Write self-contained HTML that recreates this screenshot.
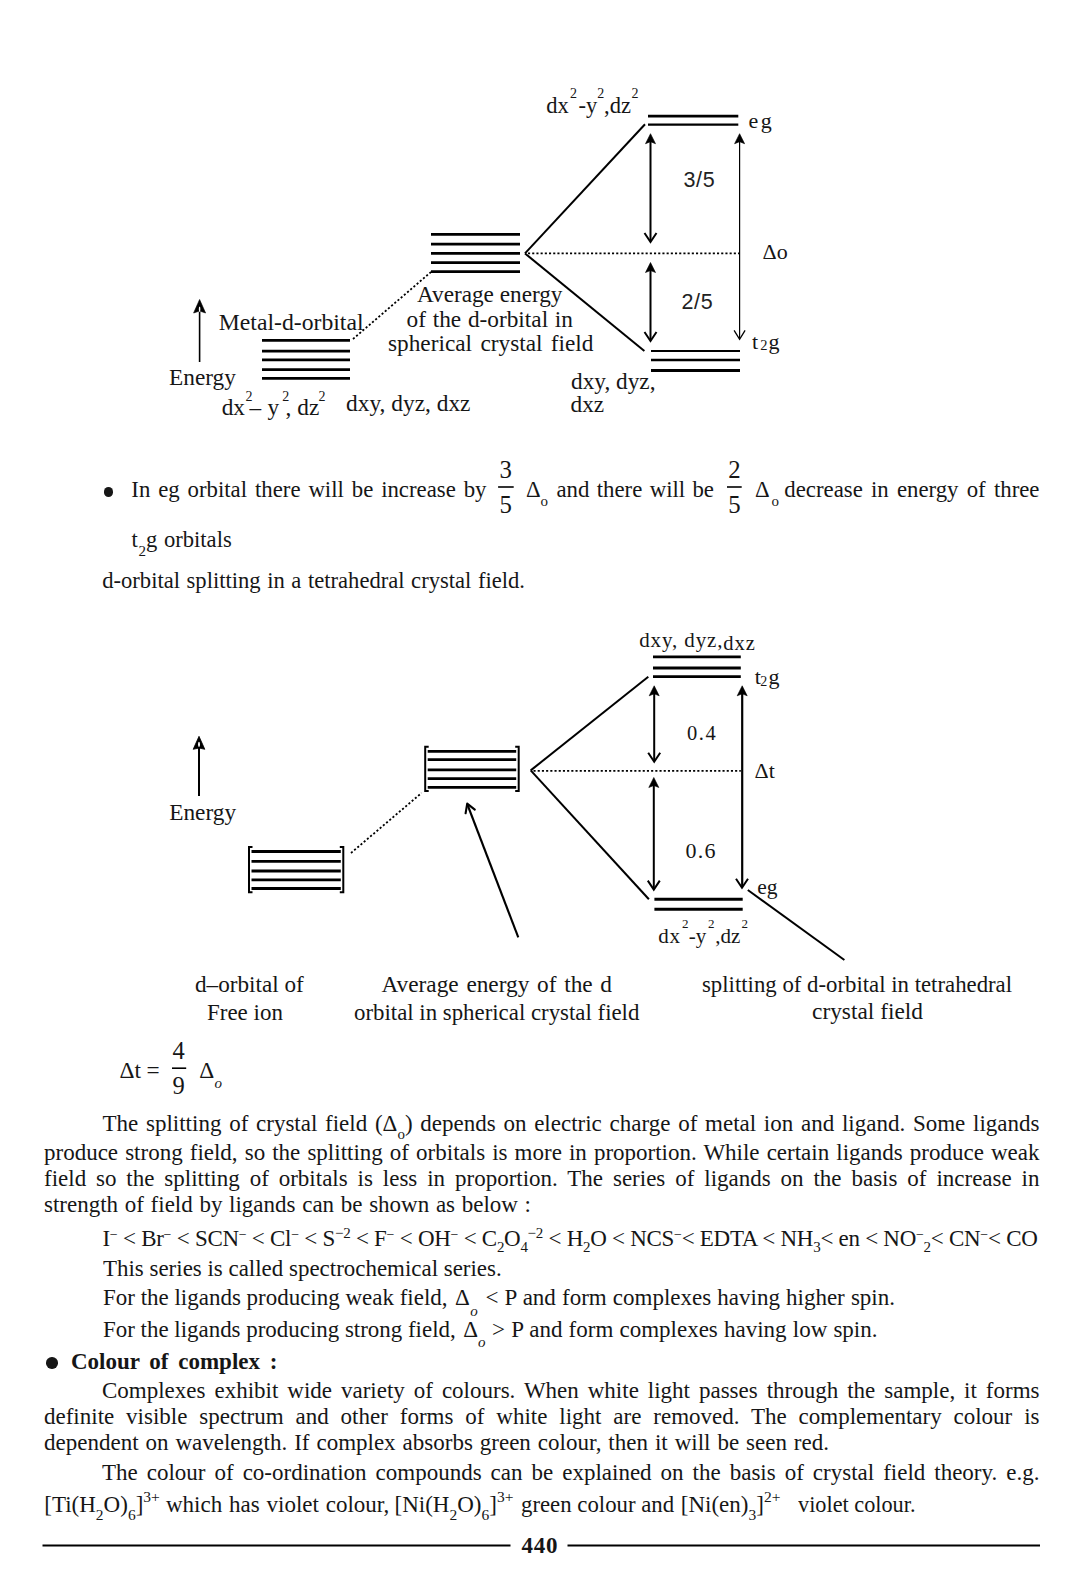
<!DOCTYPE html>
<html><head><meta charset="utf-8">
<style>
html,body{margin:0;padding:0;background:#fff;}
body{width:1080px;height:1575px;position:relative;overflow:hidden;}
.s,.ss{position:absolute;white-space:nowrap;line-height:0;color:#161616;font-family:"Liberation Serif",serif;}
.ss{font-family:"Liberation Sans",sans-serif;}
.r{position:relative;line-height:0;}
.dot{position:absolute;width:10px;height:10px;border-radius:50%;background:#161616;}
svg{position:absolute;left:0;top:0;}
</style></head><body>
<svg width="1080" height="1575" viewBox="0 0 1080 1575" stroke="#000" stroke-linecap="butt">
<line x1="431" y1="234.4" x2="520" y2="234.4" stroke-width="2.7" />
<line x1="431" y1="244.1" x2="520" y2="244.1" stroke-width="2.7" />
<line x1="431" y1="253.4" x2="520" y2="253.4" stroke-width="2.7" />
<line x1="431" y1="262.6" x2="520" y2="262.6" stroke-width="2.7" />
<line x1="431" y1="271.6" x2="520" y2="271.6" stroke-width="2.7" />
<line x1="262" y1="340.4" x2="350" y2="340.4" stroke-width="2.7" />
<line x1="262" y1="351.1" x2="350" y2="351.1" stroke-width="2.7" />
<line x1="262" y1="359.8" x2="350" y2="359.8" stroke-width="2.7" />
<line x1="262" y1="369.6" x2="350" y2="369.6" stroke-width="2.7" />
<line x1="262" y1="378.4" x2="350" y2="378.4" stroke-width="2.7" />
<line x1="353" y1="339" x2="431" y2="272" stroke-width="1.8" stroke-dasharray="2.1 2.1"/>
<line x1="525" y1="253.4" x2="645" y2="124.2" stroke-width="2" />
<line x1="525" y1="253.4" x2="644.4" y2="351.1" stroke-width="2" />
<line x1="528" y1="253.4" x2="739" y2="253.4" stroke-width="1.8" stroke-dasharray="2.1 2.1"/>
<line x1="648" y1="116.2" x2="738.3" y2="116.2" stroke-width="2.8" />
<line x1="648" y1="124.7" x2="738.3" y2="124.7" stroke-width="2.2" />
<line x1="651" y1="351" x2="740" y2="351" stroke-width="2.2" />
<line x1="651" y1="360" x2="740" y2="360" stroke-width="2.4" />
<line x1="651" y1="370.4" x2="740" y2="370.4" stroke-width="3" />
<line x1="650.5" y1="140" x2="650.5" y2="241" stroke-width="2" />
<path d="M650.5,133.7 L645.5,143.7 L650.5,141.7 L655.5,143.7 Z" stroke-width="0.6" fill="#000" />
<path d="M644.5,233 L650.5,242 L656.5,233" stroke-width="2" fill="none" />
<line x1="650.5" y1="270" x2="650.5" y2="340" stroke-width="2" />
<path d="M650.5,262.5 L645.5,272.5 L650.5,270.5 L655.5,272.5 Z" stroke-width="0.6" fill="#000" />
<path d="M644.5,332 L650.5,341 L656.5,332" stroke-width="2" fill="none" />
<line x1="739.6" y1="140" x2="739.6" y2="338" stroke-width="1.2" />
<path d="M739.6,133.7 L734.6,143.7 L739.6,141.7 L744.6,143.7 Z" stroke-width="0.6" fill="#000" />
<path d="M734.1,330.3 L739.6,339.3 L745.1,330.3" stroke-width="1.3" fill="none" />
<line x1="199.6" y1="312" x2="199.6" y2="362" stroke-width="1.6" />
<path d="M199.6,299.5 L193.6,313.0 L199.6,311.0 L205.6,313.0 Z" stroke-width="0.6" fill="#000" />
<ellipse cx="199.6" cy="309" rx="0.8" ry="2.5" fill="#fff" stroke="none"/>
<line x1="251.5" y1="851.5" x2="340.8" y2="851.5" stroke-width="2.8" />
<line x1="251.5" y1="861.3" x2="340.8" y2="861.3" stroke-width="2.8" />
<line x1="251.5" y1="871" x2="340.8" y2="871" stroke-width="2.8" />
<line x1="251.5" y1="879.8" x2="340.8" y2="879.8" stroke-width="2.8" />
<line x1="251.5" y1="888.5" x2="340.8" y2="888.5" stroke-width="2.8" />
<path d="M252.5,847 L249,847 L249,892.2 L252.5,892.2" stroke-width="2" fill="none" />
<path d="M339.8,847 L343.3,847 L343.3,892.2 L339.8,892.2" stroke-width="2" fill="none" />
<line x1="427.7" y1="751.3" x2="516.2" y2="751.3" stroke-width="2.8" />
<line x1="427.7" y1="759.6" x2="516.2" y2="759.6" stroke-width="2.8" />
<line x1="427.7" y1="769.8" x2="516.2" y2="769.8" stroke-width="2.8" />
<line x1="427.7" y1="778.7" x2="516.2" y2="778.7" stroke-width="2.8" />
<line x1="427.7" y1="787.4" x2="516.2" y2="787.4" stroke-width="2.8" />
<path d="M428.7,746.7 L425.2,746.7 L425.2,791.1 L428.7,791.1" stroke-width="2" fill="none" />
<path d="M515.2,746.7 L518.7,746.7 L518.7,791.1 L515.2,791.1" stroke-width="2" fill="none" />
<line x1="351" y1="853" x2="421.5" y2="793" stroke-width="1.8" stroke-dasharray="2.1 2.1"/>
<line x1="518.3" y1="937.4" x2="467.6" y2="805" stroke-width="2.1" />
<path d="M465.6,813.3 L467.2,803.6 L474.8,809.6" stroke-width="2.1" fill="none" stroke-linecap="round" stroke-linejoin="round"/>
<line x1="530.7" y1="770.4" x2="648.3" y2="676.7" stroke-width="2" />
<line x1="530.7" y1="770.4" x2="648.9" y2="899.3" stroke-width="2" />
<line x1="533.5" y1="770.8" x2="740.8" y2="770.8" stroke-width="1.8" stroke-dasharray="2.1 2.1"/>
<line x1="653" y1="656.9" x2="740.8" y2="656.9" stroke-width="2.8" />
<line x1="653" y1="668" x2="740.8" y2="668" stroke-width="2.8" />
<line x1="653" y1="676.6" x2="740.8" y2="676.6" stroke-width="2.8" />
<line x1="654.4" y1="899.3" x2="742.7" y2="899.3" stroke-width="3" />
<line x1="654.4" y1="909.3" x2="742.7" y2="909.3" stroke-width="3" />
<line x1="654.2" y1="692" x2="654.2" y2="760" stroke-width="2" />
<path d="M654.2,685.8 L649.2,695.8 L654.2,693.8 L659.2,695.8 Z" stroke-width="0.6" fill="#000" />
<path d="M648.2,752.7 L654.2,761.7 L660.2,752.7" stroke-width="2" fill="none" />
<line x1="653.8" y1="784" x2="653.8" y2="888" stroke-width="2" />
<path d="M653.8,777.5 L648.8,787.5 L653.8,785.5 L658.8,787.5 Z" stroke-width="0.6" fill="#000" />
<path d="M647.8,880.6 L653.8,889.6 L659.8,880.6" stroke-width="2" fill="none" />
<line x1="742.2" y1="692" x2="742.2" y2="886" stroke-width="2.2" />
<path d="M742.2,685.8 L737.2,695.8 L742.2,693.8 L747.2,695.8 Z" stroke-width="0.6" fill="#000" />
<path d="M736,878.8 L742,887.8 L748,878.8" stroke-width="2" fill="none" />
<line x1="747.8" y1="890" x2="844.4" y2="960" stroke-width="2" />
<line x1="199" y1="747" x2="199" y2="796" stroke-width="2" />
<path d="M199,736.3 L193.2,749.3 L199,748 L204.8,749.3 Z" stroke-width="0.8" fill="#000" />
<ellipse cx="199" cy="744.3" rx="1" ry="2.6" fill="#fff" stroke="none"/>
<line x1="498.1" y1="487" x2="513.7" y2="487" stroke-width="1.6" />
<line x1="727" y1="487" x2="741.7" y2="487" stroke-width="1.6" />
<line x1="172" y1="1068.2" x2="186.2" y2="1068.2" stroke-width="1.6" />
<line x1="42.5" y1="1545.5" x2="510.5" y2="1545.5" stroke-width="2.2" />
<line x1="567.5" y1="1545.5" x2="1040" y2="1545.5" stroke-width="2.2" />
</svg>
<div class="s" style="left:546.3px;top:106.21px;font-size:22.5px;">dx</div>
<div class="s" style="left:570.0px;top:93.58px;font-size:14px;">2</div>
<div class="s" style="left:578.5px;top:106.21px;font-size:22.5px;">-y</div>
<div class="s" style="left:597.3px;top:93.58px;font-size:14px;">2</div>
<div class="s" style="left:604.0px;top:106.21px;font-size:22.5px;">,dz</div>
<div class="s" style="left:631.5px;top:93.58px;font-size:14px;">2</div>
<div class="s" style="left:748.5px;top:120.88px;font-size:22px;letter-spacing:2.5px">eg</div>
<div class="ss" style="left:683.5px;top:179.85px;font-size:21.5px;letter-spacing:0.6px;color:#222">3/5</div>
<div class="s" style="left:762.5px;top:251.98px;font-size:22px;">&Delta;o</div>
<div class="ss" style="left:681.5px;top:301.85px;font-size:21.5px;letter-spacing:0.6px;color:#222">2/5</div>
<div class="s" style="left:752.0px;top:342.38px;font-size:22px;">t</div>
<div class="s" style="left:760.3px;top:344.91px;font-size:14.5px;">2</div>
<div class="s" style="left:768.5px;top:342.38px;font-size:22px;">g</div>
<div class="s" style="left:218.8px;top:322.40px;font-size:23.7px;">Metal-d-orbital</div>
<div class="s" style="left:416.5px;top:294.14px;font-size:23.3px;transform:scaleX(0.9967);transform-origin:0 0;">Average energy</div>
<div class="s" style="left:406.5px;top:318.94px;font-size:23.3px;width:166.5px;text-align:justify;text-align-last:justify;">of the d-orbital in</div>
<div class="s" style="left:388.0px;top:343.44px;font-size:23.3px;width:205.5px;text-align:justify;text-align-last:justify;">spherical crystal field</div>
<div class="s" style="left:169.0px;top:376.94px;font-size:23.3px;">Energy</div>
<div class="s" style="left:221.7px;top:407.34px;font-size:23.3px;">dx</div>
<div class="s" style="left:245.5px;top:397.18px;font-size:14px;">2</div>
<div class="s" style="left:249.5px;top:407.34px;font-size:23.3px;">&ndash;</div>
<div class="s" style="left:267.5px;top:407.34px;font-size:23.3px;">y</div>
<div class="s" style="left:282.3px;top:397.18px;font-size:14px;">2</div>
<div class="s" style="left:285.5px;top:407.34px;font-size:23.3px;">,</div>
<div class="s" style="left:297.3px;top:407.34px;font-size:23.3px;">dz</div>
<div class="s" style="left:318.4px;top:397.18px;font-size:14px;">2</div>
<div class="s" style="left:345.5px;top:402.64px;font-size:23.3px;transform:scaleX(1.0039);transform-origin:0 0;">dxy, dyz, dxz</div>
<div class="s" style="left:570.5px;top:380.74px;font-size:23.3px;transform:scaleX(0.9994);transform-origin:0 0;">dxy, dyz,</div>
<div class="s" style="left:570.5px;top:403.94px;font-size:23.3px;">dxz</div>
<div class="dot" style="left:103.8px;top:487.2px;width:9.5px;height:9.5px"></div>
<div class="s" style="left:131.3px;top:489.81px;font-size:22.8px;width:355.2px;text-align:justify;text-align-last:justify;">In eg orbital there will be increase by</div>
<div class="s" style="left:499.5px;top:470.13px;font-size:24.8px;">3</div>
<div class="s" style="left:499.5px;top:504.73px;font-size:24.8px;">5</div>
<div class="s" style="left:526.0px;top:489.61px;font-size:22.8px;">&Delta;</div>
<div class="s" style="left:540.5px;top:501.44px;font-size:15px;">o</div>
<div class="s" style="left:556.5px;top:489.81px;font-size:22.8px;width:157.5px;text-align:justify;text-align-last:justify;">and there will be</div>
<div class="s" style="left:728.2px;top:470.13px;font-size:24.8px;">2</div>
<div class="s" style="left:728.2px;top:504.73px;font-size:24.8px;">5</div>
<div class="s" style="left:755.0px;top:489.61px;font-size:22.8px;">&Delta;</div>
<div class="s" style="left:771.5px;top:501.44px;font-size:15px;">o</div>
<div class="s" style="left:784.3px;top:489.81px;font-size:22.8px;width:255.2px;text-align:justify;text-align-last:justify;">decrease in energy of three</div>
<div class="s" style="left:131.5px;top:540.37px;font-size:22.6px;">t</div>
<div class="s" style="left:138.5px;top:551.24px;font-size:15px;">2</div>
<div class="s" style="left:146.0px;top:540.37px;font-size:22.6px;word-spacing:1px">g orbitals</div>
<div class="s" style="left:102.2px;top:581.37px;font-size:22.6px;width:422.8px;text-align:justify;text-align-last:justify;">d-orbital splitting in a tetrahedral crystal field.</div>
<div class="s" style="left:639.2px;top:640.41px;font-size:21px;letter-spacing:0.9px">dxy, dyz,</div>
<div class="s" style="left:723.2px;top:643.28px;font-size:20.5px;letter-spacing:1px">dxz</div>
<div class="s" style="left:754.7px;top:676.88px;font-size:22px;">t</div>
<div class="s" style="left:760.3px;top:681.58px;font-size:14px;">2</div>
<div class="s" style="left:768.5px;top:676.88px;font-size:22px;">g</div>
<div class="s" style="left:687.0px;top:733.48px;font-size:20.5px;letter-spacing:1.6px">0.4</div>
<div class="s" style="left:754.5px;top:770.88px;font-size:22px;">&Delta;t</div>
<div class="s" style="left:685.5px;top:850.98px;font-size:22px;letter-spacing:1.3px">0.6</div>
<div class="s" style="left:757.3px;top:886.85px;font-size:21.5px;">eg</div>
<div class="s" style="left:658.2px;top:936.31px;font-size:21px;letter-spacing:0.8px">dx</div>
<div class="s" style="left:682.0px;top:923.71px;font-size:13px;">2</div>
<div class="s" style="left:688.8px;top:936.31px;font-size:21px;">-y</div>
<div class="s" style="left:708.0px;top:923.71px;font-size:13px;">2</div>
<div class="s" style="left:715.2px;top:936.31px;font-size:21px;">,dz</div>
<div class="s" style="left:741.6px;top:923.71px;font-size:13px;">2</div>
<div class="s" style="left:169.2px;top:811.94px;font-size:23.3px;">Energy</div>
<div class="s" style="left:195.1px;top:984.14px;font-size:23.3px;transform:scaleX(0.9940);transform-origin:0 0;">d&ndash;orbital of</div>
<div class="s" style="left:207.3px;top:1011.74px;font-size:23.3px;transform:scaleX(0.9857);transform-origin:0 0;">Free ion</div>
<div class="s" style="left:381.5px;top:984.14px;font-size:23.3px;width:230.5px;text-align:justify;text-align-last:justify;">Average energy of the d</div>
<div class="s" style="left:354.0px;top:1011.74px;font-size:23.3px;transform:scaleX(0.9803);transform-origin:0 0;">orbital in spherical crystal field</div>
<div class="s" style="left:702.2px;top:983.74px;font-size:23.3px;transform:scaleX(0.9781);transform-origin:0 0;">splitting of d-orbital in tetrahedral</div>
<div class="s" style="left:812.4px;top:1011.44px;font-size:23.3px;transform:scaleX(1.0034);transform-origin:0 0;">crystal field</div>
<div class="s" style="left:119.6px;top:1069.74px;font-size:23.3px;">&Delta;t</div>
<div class="s" style="left:146.5px;top:1069.74px;font-size:23.3px;">=</div>
<div class="s" style="left:172.5px;top:1050.53px;font-size:24.5px;">4</div>
<div class="s" style="left:172.5px;top:1085.53px;font-size:24.5px;">9</div>
<div class="s" style="left:199.3px;top:1069.74px;font-size:23.3px;">&Delta;</div>
<div class="s" style="left:214.5px;top:1082.74px;font-size:15px;"><i>o</i></div>
<div class="s" style="left:102.5px;top:1123.54px;font-size:23px;width:937.0px;text-align:justify;text-align-last:justify;">The splitting of crystal field (&Delta;<span class="r" style="top:8.5px;font-size:15px">o</span>) depends on electric charge of metal ion and ligand. Some ligands</div>
<div class="s" style="left:44.0px;top:1152.54px;font-size:23px;width:995.5px;text-align:justify;text-align-last:justify;">produce strong field, so the splitting of orbitals is more in proportion. While certain ligands produce weak</div>
<div class="s" style="left:44.0px;top:1178.54px;font-size:23px;width:995.5px;text-align:justify;text-align-last:justify;">field so the splitting of orbitals is less in proportion. The series of ligands on the basis of increase in</div>
<div class="s" style="left:44.0px;top:1204.54px;font-size:23px;width:487.0px;text-align:justify;text-align-last:justify;">strength of field by ligands can be shown as below :</div>
<div class="s" style="left:102.5px;top:1238.74px;font-size:23px;width:935.0px;text-align:justify;text-align-last:justify;letter-spacing:-0.3px">I<span class="r" style="top:-7px;font-size:14px">&minus;</span> &lt; Br<span class="r" style="top:-7px;font-size:14px">&minus;</span> &lt; SCN<span class="r" style="top:-7px;font-size:14px">&minus;</span> &lt; Cl<span class="r" style="top:-7px;font-size:14px">&minus;</span> &lt; S<span class="r" style="top:-8px;font-size:15px">&minus;2</span> &lt; F<span class="r" style="top:-7px;font-size:14px">&minus;</span> &lt; OH<span class="r" style="top:-7px;font-size:14px">&minus;</span> &lt; C<span class="r" style="top:6px;font-size:15px">2</span>O<span class="r" style="top:6px;font-size:15px">4</span><span class="r" style="top:-8px;font-size:15px">&minus;2</span> &lt; H<span class="r" style="top:6px;font-size:15px">2</span>O &lt; NCS<span class="r" style="top:-7px;font-size:14px">&minus;</span>&lt; EDTA &lt; NH<span class="r" style="top:6px;font-size:15px">3</span>&lt; en &lt; NO<span class="r" style="top:-7px;font-size:14px">&minus;</span><span class="r" style="top:6px;font-size:15px">2</span>&lt; CN<span class="r" style="top:-7px;font-size:14px">&minus;</span>&lt; CO</div>
<div class="s" style="left:103.3px;top:1269.04px;font-size:23px;transform:scaleX(0.9973);transform-origin:0 0;">This series is called spectrochemical series.</div>
<div class="s" style="left:103.3px;top:1298.04px;font-size:23px;transform:scaleX(0.9988);transform-origin:0 0;">For the ligands producing weak field,</div>
<div class="s" style="left:455.0px;top:1298.04px;font-size:23px;">&Delta;</div>
<div class="s" style="left:470.3px;top:1311.14px;font-size:15px;"><i>o</i></div>
<div class="s" style="left:485.5px;top:1298.04px;font-size:23px;width:409.5px;text-align:justify;text-align-last:justify;">&lt; P and form complexes having higher spin.</div>
<div class="s" style="left:103.3px;top:1329.94px;font-size:23px;transform:scaleX(0.9966);transform-origin:0 0;">For the ligands producing strong field,</div>
<div class="s" style="left:463.2px;top:1329.94px;font-size:23px;">&Delta;</div>
<div class="s" style="left:478.0px;top:1342.24px;font-size:15px;"><i>o</i></div>
<div class="s" style="left:492.0px;top:1329.94px;font-size:23px;width:385.5px;text-align:justify;text-align-last:justify;">&gt; P and form complexes having low spin.</div>
<div class="dot" style="left:46.2px;top:1357.4px;width:11.5px;height:11.5px"></div>
<div class="s" style="left:71.0px;top:1362.04px;font-size:23px;word-spacing:4px"><b>Colour of complex :</b></div>
<div class="s" style="left:102.0px;top:1390.54px;font-size:23px;width:937.5px;text-align:justify;text-align-last:justify;">Complexes exhibit wide variety of colours. When white light passes through the sample, it forms</div>
<div class="s" style="left:44.0px;top:1417.04px;font-size:23px;width:995.5px;text-align:justify;text-align-last:justify;">definite visible spectrum and other forms of white light are removed. The complementary colour is</div>
<div class="s" style="left:44.0px;top:1443.04px;font-size:23px;width:785.0px;text-align:justify;text-align-last:justify;">dependent on wavelength. If complex absorbs green colour, then it will be seen red.</div>
<div class="s" style="left:102.0px;top:1473.04px;font-size:23px;width:937.5px;text-align:justify;text-align-last:justify;">The colour of co-ordination compounds can be explained on the basis of crystal field theory. e.g.</div>
<div class="s" style="left:44.3px;top:1505.04px;font-size:23px;">[Ti(H<span class="r" style="top:7.5px;font-size:15.5px">2</span>O)<span class="r" style="top:7.5px;font-size:15.5px">6</span>]<span class="r" style="top:-10px;font-size:15.5px">3+</span></div>
<div class="s" style="left:166.0px;top:1505.04px;font-size:23px;width:223.3px;text-align:justify;text-align-last:justify;">which has violet colour,</div>
<div class="s" style="left:394.5px;top:1505.04px;font-size:23px;">[Ni(H<span class="r" style="top:7.5px;font-size:15.5px">2</span>O)<span class="r" style="top:7.5px;font-size:15.5px">6</span>]<span class="r" style="top:-10px;font-size:15.5px">3+</span></div>
<div class="s" style="left:520.5px;top:1505.04px;font-size:23px;transform:scaleX(0.9907);transform-origin:0 0;">green colour and</div>
<div class="s" style="left:680.8px;top:1505.04px;font-size:23px;">[Ni(en)<span class="r" style="top:7.5px;font-size:15.5px">3</span>]<span class="r" style="top:-10px;font-size:15.5px">2+</span></div>
<div class="s" style="left:797.5px;top:1505.04px;font-size:23px;transform:scaleX(0.9681);transform-origin:0 0;">violet colour.</div>
<div class="s" style="left:521.5px;top:1546.04px;font-size:23px;letter-spacing:0.8px"><b>440</b></div>
</body></html>
